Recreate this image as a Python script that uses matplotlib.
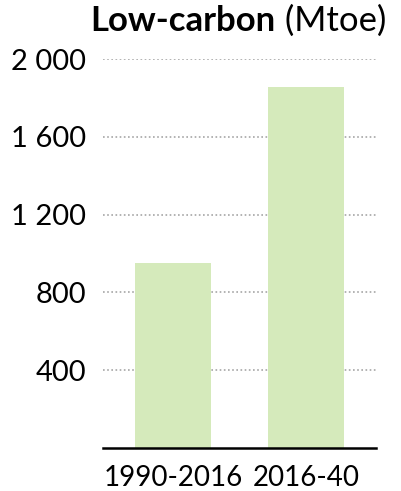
import matplotlib
matplotlib.use("Agg")
import matplotlib.pyplot as plt

categories = ["1990-2016", "2016-40"]
values = [950, 1855]
yticks = [400, 800, 1200, 1600, 2000]
ytick_labels = ["400", "800", "1 200", "1 600", "2 000"]
title_bold = "Low-carbon"
title_unit = " (Mtoe)"

plt.rcParams['font.family'] = ['Lato', 'DejaVu Sans']

W, H = 401, 491
fig = plt.figure(figsize=(W/100, H/100), dpi=100)
ax = fig.add_axes([103/W, (H-448)/H, 273/W, 389/H])

x = list(range(len(categories)))
ax.bar(x, values, width=0.571, color="#d5eabb", zorder=3)
ax.set_xlim(-0.526, 1.526)
ax.set_ylim(0, 2000)

ax.set_yticks(yticks)
ax.set_yticklabels(ytick_labels)
ax.set_xticks(x)
ax.set_xticklabels(categories)
ax.tick_params(axis='y', length=0, labelsize=21, colors="#000000", pad=12)
ax.tick_params(axis='x', length=0, labelsize=20, colors="#000000", pad=12)

ax.grid(axis='y', color="#a6a6a6", linestyle=(0, (1, 1.5)), linewidth=1.2, zorder=1)
ax.grid(axis='x', visible=False)
for s in ['top', 'right', 'left']:
    ax.spines[s].set_visible(False)
ax.spines['bottom'].set_linewidth(1.8)
ax.spines['bottom'].set_color("#000000")
ax.spines['bottom'].set_zorder(4)

# Title: bold part + normal part, right aligned
t2 = fig.text(386/W, (H-31)/H, title_unit, ha='right', va='baseline', fontsize=25)
fig.canvas.draw()
bb = t2.get_window_extent()
fig.text(bb.x0/W, (H-31)/H, title_bold, ha='right', va='baseline', fontsize=25, fontweight='bold')

fig.savefig("out.png", dpi=100)
